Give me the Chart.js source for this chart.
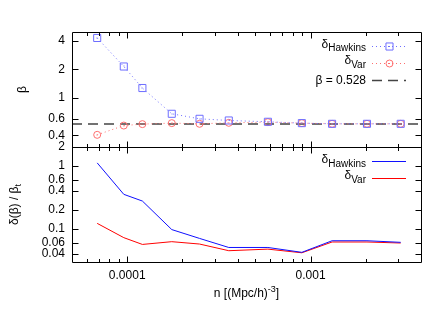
<!DOCTYPE html>
<html>
<head>
<meta charset="utf-8">
<script src="https://cdn.jsdelivr.net/npm/chart.js@4.4.0/dist/chart.umd.min.js"></script>
<style>
    html, body { margin: 0; padding: 0; background: #fff; }
    canvas { display: block; }
</style>
</head>
<body>
<canvas id="chart" width="436" height="327"></canvas>
<script>
"use strict";

// sample number density n [(Mpc/h)^-3]
const density = [6.86e-5, 9.58e-5, 1.21e-4, 1.75e-4, 2.48e-4, 3.58e-4, 5.85e-4, 8.96e-4, 1.31e-3, 2.03e-3, 3.10e-3];

// top panel: fitted beta
const betaHawkins = [4.32, 2.15, 1.27, 0.676, 0.598, 0.574, 0.556, 0.538, 0.529, 0.529, 0.529];
const betaVar = [0.404, 0.507, 0.525, 0.538, 0.529, 0.542, 0.551, 0.538, 0.529, 0.529, 0.529];
const betaTrue = 0.528;

// bottom panel: relative error on beta
const errHawkins = [1.12, 0.355, 0.278, 0.098, 0.071, 0.051, 0.051, 0.0427, 0.0652, 0.0652, 0.0615];
const errVar = [0.123, 0.073, 0.057, 0.063, 0.0578, 0.0453, 0.048, 0.042, 0.0623, 0.0623, 0.060];

const xTicks = [1e-4, 1e-3];
const betaTicks = [4, 2, 1, 0.6, 0.4];
const errTicks = [2, 1, 0.6, 0.4, 0.2, 0.1, 0.06, 0.04];

const X_MIN = 5e-5, X_MAX = 4e-3;
const FONT = "\"Liberation Sans\", Arial, sans-serif";
const BLUE_DOT = "#6e6eff", RED_DOT = "#ff6e6e";
const BLUE = "#1010ff", RED = "#ff0000";

const points = ys => density.map((n, i) => ({x: n, y: ys[i]}));

// draws main text followed by a sub/superscript
function richText (ctx, parts, x, y, align) {
    let width = 0;
    parts.forEach(p => {
        ctx.font = `${p.size}px ${FONT}`;
        p.w = ctx.measureText(p.text).width;
        width += p.w;
    });
    let cx = align === "right" ? x - width : align === "center" ? x - width / 2 : x;
    ctx.textAlign = "left";
    ctx.textBaseline = "middle";
    parts.forEach(p => {
        ctx.font = `${p.size}px ${FONT}`;
        ctx.fillText(p.text, cx, y + (p.dy || 0));
        cx += p.w;
    });
}

const framePlugin = {
    id: "frame",
    afterDatasetsDraw (chart) {
        const {ctx, chartArea: a, scales} = chart;
        const top = scales.yTop, bot = scales.yBot, x = scales.x;
        const mid = Math.round(top.bottom) + 0.5;
        const L = Math.round(a.left) + 0.5, R = Math.round(a.right) + 0.5;
        const T = Math.round(a.top) + 0.5, B = Math.round(a.bottom) + 0.5;

        ctx.save();

        // gnuplot-style dot in the middle of each marker
        [0, 1].forEach(i => {
            ctx.fillStyle = chart.data.datasets[i].pointBorderColor;
            chart.getDatasetMeta(i).data.forEach(p => {
                ctx.fillRect(Math.round(p.x) - 0.5, Math.round(p.y) - 0.5, 1, 1);
            });
        });

        ctx.strokeStyle = "#000";
        ctx.lineWidth = 1;
        ctx.beginPath();
        ctx.rect(L, T, R - L, B - T);
        ctx.moveTo(L, mid);
        ctx.lineTo(R, mid);

        [top, bot].forEach(s => {
            s.ticks.forEach(t => {
                const py = Math.round(s.getPixelForValue(t.value)) + 0.5;
                if (py <= T + 1 || py >= B - 1) return;
                ctx.moveTo(L, py); ctx.lineTo(L + 6, py);
                ctx.moveTo(R, py); ctx.lineTo(R - 6, py);
            });
        });

        const xMarks = [];
        for (let d = -5; d <= -3; d++) {
            for (let m = 1; m <= 9; m++) {
                const v = m * Math.pow(10, d);
                if (v > X_MIN && v < X_MAX) xMarks.push({v, len: m === 1 ? 6 : 3.5});
            }
        }
        xMarks.forEach(({v, len}) => {
            const px = Math.round(x.getPixelForValue(v)) + 0.5;
            ctx.moveTo(px, T); ctx.lineTo(px, T + len);
            ctx.moveTo(px, mid - len); ctx.lineTo(px, mid + len);
            ctx.moveTo(px, B); ctx.lineTo(px, B - len);
        });
        ctx.stroke();
        ctx.restore();
    },
    afterDraw (chart) {
        const {ctx, chartArea: a, scales} = chart;
        const top = scales.yTop, bot = scales.yBot;
        const ds = chart.data.datasets;
        ctx.save();

        // legends
        const textRight = a.right - 55, s0 = a.right - 49, s1 = a.right - 15;
        const legend = (entries, y0) => entries.forEach((e, i) => {
            const y = y0 + i * e.step;
            const py = Math.round(y) + 0.5;
            ctx.fillStyle = "#000";
            richText(ctx, e.parts, textRight, y, "right");
            const d = ds[e.ds];
            ctx.strokeStyle = d.borderColor;
            ctx.lineWidth = d.borderWidth;
            ctx.setLineDash(d.borderDash || []);
            ctx.beginPath();
            ctx.moveTo(s0, py);
            ctx.lineTo(s1, py);
            ctx.stroke();
            ctx.setLineDash([]);
            if (d.pointRadius) {
                const cx = Math.round((s0 + s1) / 2) + 0.5;
                ctx.lineWidth = 1;
                ctx.strokeStyle = d.pointBorderColor;
                ctx.fillStyle = "rgba(0,0,0,0)";
                Chart.helpers.drawPoint(ctx, {pointStyle: d.pointStyle, radius: d.pointRadius, borderWidth: 1}, cx, py);
                ctx.fillStyle = d.pointBorderColor;
                ctx.fillRect(cx - 0.5, py - 0.5, 1, 1);
            }
        });

        legend([
            {ds: 0, step: 16.8, parts: [{text: "δ", size: 12, dy: -1.5}, {text: "Hawkins", size: 10, dy: 3}]},
            {ds: 1, step: 16.8, parts: [{text: "δ", size: 12, dy: -1.5}, {text: "Var", size: 10, dy: 3}]},
            {ds: 2, step: 17.2, parts: [{text: "β = " + betaTrue, size: 12, dy: 0.5}]}
        ], top.top + 13.7);

        legend([
            {ds: 3, step: 16.6, parts: [{text: "δ", size: 12, dy: -1.5}, {text: "Hawkins", size: 10, dy: 3}]},
            {ds: 4, step: 16.6, parts: [{text: "δ", size: 12, dy: -1.5}, {text: "Var", size: 10, dy: 3}]}
        ], bot.top + 14);

        ctx.fillStyle = "#000";
        // axis titles
        ctx.save();
        ctx.translate(23, (top.top + top.bottom) / 2);
        ctx.rotate(-Math.PI / 2);
        richText(ctx, [{text: "β", size: 12}], 0, 0, "center");
        ctx.restore();

        ctx.save();
        ctx.translate(15, (bot.top + bot.bottom) / 2);
        ctx.rotate(-Math.PI / 2);
        richText(ctx, [{text: "δ(β) / β", size: 12}, {text: "t", size: 9, dy: 3.5}], 0, 0, "center");
        ctx.restore();

        richText(ctx, [
            {text: "n [(Mpc/h)", size: 12},
            {text: "-3", size: 9, dy: -4},
            {text: "]", size: 12}
        ], (a.left + a.right) / 2, a.bottom + 32, "center");

        ctx.restore();
    }
};

const logY = (ticks, min, max, weight) => ({
    type: "logarithmic",
    position: "left",
    stack: "panels",
    stackWeight: 1,
    weight,
    min, max,
    grid: {display: false, drawTicks: false},
    border: {display: false},
    afterBuildTicks: s => { s.ticks = ticks.map(v => ({value: v})); },
    afterFit: s => { s.width = 72; },
    ticks: {
        autoSkip: false,
        padding: 7,
        color: "#000",
        font: {family: FONT, size: 12},
        callback: v => String(v)
    }
});

new Chart(document.getElementById("chart"), {
    type: "line",
    data: {
        datasets: [
            {
                data: points(betaHawkins), yAxisID: "yTop",
                borderColor: BLUE_DOT, borderWidth: 1, borderDash: [1, 3],
                pointStyle: "rect", pointRadius: 5, pointBorderColor: BLUE_DOT,
                pointBackgroundColor: "transparent", pointBorderWidth: 1
            },
            {
                data: points(betaVar), yAxisID: "yTop",
                borderColor: RED_DOT, borderWidth: 1, borderDash: [1, 3],
                pointStyle: "circle", pointRadius: 3.5, pointBorderColor: RED_DOT,
                pointBackgroundColor: "transparent", pointBorderWidth: 1
            },
            {
                data: [{x: X_MIN, y: betaTrue}, {x: X_MAX, y: betaTrue}], yAxisID: "yTop",
                borderColor: "#444", borderWidth: 1.5, borderDash: [10, 6],
                pointRadius: 0
            },
            {
                data: points(errHawkins), yAxisID: "yBot",
                borderColor: BLUE, borderWidth: 1, pointRadius: 0
            },
            {
                data: points(errVar), yAxisID: "yBot",
                borderColor: RED, borderWidth: 1, pointRadius: 0
            }
        ]
    },
    options: {
        responsive: false,
        animation: false,
        layout: {padding: {top: 32, right: 15, left: 0, bottom: 0}},
        plugins: {legend: {display: false}, tooltip: {enabled: false}},
        elements: {line: {tension: 0}},
        scales: {
            x: {
                type: "logarithmic",
                min: X_MIN, max: X_MAX,
                grid: {display: false, drawTicks: false},
                border: {display: false},
                afterBuildTicks: s => { s.ticks = xTicks.map(v => ({value: v})); },
                afterFit: s => { s.height = 65; },
                ticks: {
                    autoSkip: false,
                    maxRotation: 0,
                    padding: 6,
                    color: "#000",
                    font: {family: FONT, size: 12},
                    callback: v => String(v)
                }
            },
            yTop: logY(betaTicks, 0.3, 5, 1),
            yBot: logY(errTicks, 0.03, 2, 0)
        }
    },
    plugins: [framePlugin]
});
</script>
</body>
</html>
